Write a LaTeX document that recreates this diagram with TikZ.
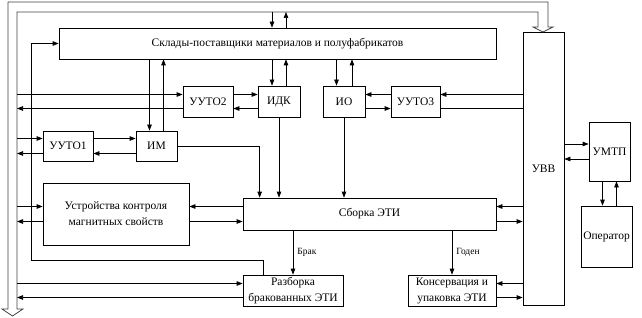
\documentclass[tikz,border=0pt]{standalone}
\usepackage{fontspec}
\setmainfont{Liberation Serif}
\usetikzlibrary{arrows.meta}

\begin{document}
\begin{tikzpicture}[x=1pt,y=-1pt,
  box/.style={draw, line width=0.7pt, inner sep=1pt, align=center, font=\fontsize{11.5}{16}\selectfont},
  arr/.style={line width=0.7pt, -{Triangle[length=6pt,width=4.5pt]}},
  ln/.style={line width=0.7pt},
  lbl/.style={font=\fontsize{9.5}{11}\selectfont, right, inner sep=0pt}]
\useasboundingbox (0,0) rectangle (642,318);
% blocks
\node[box, minimum width=437pt, minimum height=31pt] (sklad) at (277.5,43.5) {Склады-поставщики материалов и полуфабрикатов};
\node[box, minimum width=50pt, minimum height=31pt] (uuto2) at (208,101.5) {УУТО2};
\node[box, minimum width=42pt, minimum height=31pt] (idk) at (279,101.5) {ИДК};
\node[box, minimum width=42pt, minimum height=31pt] (io) at (344,101.5) {ИО};
\node[box, minimum width=49pt, minimum height=31pt] (uuto3) at (415.5,101.5) {УУТО3};
\node[box, minimum width=50pt, minimum height=30pt] (uuto1) at (68,146) {УУТО1};
\node[box, minimum width=41pt, minimum height=30pt] (im) at (156.5,146) {ИМ};
\node[box, minimum width=146pt, minimum height=62pt] (ukms) at (116,214) {Устройства контроля\\магнитных свойств};
\node[box, minimum width=253pt, minimum height=32pt] (sborka) at (369.5,214) {Сборка ЭТИ};
\node[box, minimum width=100pt, minimum height=31pt] (razb) at (293,290.5) {Разборка\\бракованных ЭТИ};
\node[box, minimum width=88pt, minimum height=31pt] (kons) at (452,290.5) {Консервация и\\упаковка ЭТИ};
\node[box, minimum width=41pt, minimum height=273pt] (uvv) at (543.5,168.5) {УВВ};
\node[box, minimum width=41pt, minimum height=59pt] (umtp) at (609.5,151.5) {УМТП};
\node[box, minimum width=51pt, minimum height=61pt] (oper) at (606.5,236.5) {Оператор};

% wide bus
\draw[ln, black!75] (8,309) -- (8,2) -- (548,2) -- (548,27) -- (553,27) -- (543,32) -- (533,27) -- (538,27)
  -- (538,12) -- (17,12) -- (17,309) -- (23,309) -- (12.5,316) -- (2,309) -- cycle;
\coordinate (busin) at (17,12);
\coordinate (ret) at (31,260);

% bus <-> sklad
\draw[arr] ([xshift=-7pt]idk.center |- busin) -- ([xshift=-7pt]idk.center |- sklad.north);
\draw[arr] ([xshift=7pt]idk.center |- sklad.north) -- ([xshift=7pt]idk.center |- busin);
\draw[arr] ([xshift=-30pt]razb.north) |- (ret) |- (sklad.west);

% sklad <-> im, idk, io
\draw[arr] ([xshift=-7pt]im.north |- sklad.south) -- ([xshift=-7pt]im.north);
\draw[arr] ([xshift=7pt]im.north) -- ([xshift=7pt]im.north |- sklad.south);
\draw[arr] ([xshift=-7pt]idk.north |- sklad.south) -- ([xshift=-7pt]idk.north);
\draw[arr] ([xshift=7pt]idk.north) -- ([xshift=7pt]idk.north |- sklad.south);
\draw[arr] ([xshift=-7.5pt]io.north |- sklad.south) -- ([xshift=-7.5pt]io.north);
\draw[arr] ([xshift=8pt]io.north) -- ([xshift=8pt]io.north |- sklad.south);

% uuto2, uuto3
\draw[arr] ([yshift=7pt]uuto2.west -| busin) -- ([yshift=7pt]uuto2.west);
\draw[arr] ([yshift=-7pt]uuto2.west) -- ([yshift=-7pt]uuto2.west -| busin);
\draw[arr] ([yshift=7pt]uuto2.east) -- ([yshift=7pt]idk.west);
\draw[arr] ([yshift=-7pt]idk.west) -- ([yshift=-7pt]uuto2.east);
\draw[arr] ([yshift=7pt]uuto3.west) -- ([yshift=7pt]io.east);
\draw[arr] ([yshift=-7pt]io.east) -- ([yshift=-7pt]uuto3.west);
\draw[arr] ([yshift=7pt]uuto3.east -| uvv.west) -- ([yshift=7pt]uuto3.east);
\draw[ln] ([yshift=-7pt]uuto3.east) -- ([yshift=-7pt]uuto3.east -| uvv.west);

% uuto1, im
\draw[arr] ([yshift=7.5pt]uuto1.west -| busin) -- ([yshift=7.5pt]uuto1.west);
\draw[arr] ([yshift=-7.5pt]uuto1.west) -- ([yshift=-7.5pt]uuto1.west -| busin);
\draw[arr] ([yshift=7.5pt]uuto1.east) -- ([yshift=7.5pt]im.west);
\draw[arr] ([yshift=-7.5pt]im.west) -- ([yshift=-7.5pt]uuto1.east);

% into sborka
\draw[arr] (im.east) -| ([xshift=17pt]sborka.north west);
\draw[arr] (idk.south) -- (idk.south |- sborka.north);
\draw[arr] (io.south) -- (io.south |- sborka.north);

% ukms
\draw[arr] ([yshift=7.5pt]ukms.west -| busin) -- ([yshift=7.5pt]ukms.west);
\draw[arr] ([yshift=-7.5pt]ukms.west) -- ([yshift=-7.5pt]ukms.west -| busin);
\draw[arr] ([yshift=7.5pt]sborka.west) -- ([yshift=7.5pt]ukms.east);
\draw[arr] ([yshift=-7.5pt]ukms.east) -- ([yshift=-7.5pt]sborka.west);
\draw[arr] ([yshift=7.5pt]sborka.east -| uvv.west) -- ([yshift=7.5pt]sborka.east);
\draw[arr] ([yshift=-7.5pt]sborka.east) -- ([yshift=-7.5pt]sborka.east -| uvv.west);

% brak / goden
\draw[arr] (razb.north |- sborka.south) -- node[lbl, xshift=4pt] {Брак} (razb.north);
\draw[arr] (kons.north |- sborka.south) -- node[lbl, xshift=4pt] {Годен} (kons.north);

% razb, kons
\draw[arr] ([yshift=7pt]razb.west -| busin) -- ([yshift=7pt]razb.west);
\draw[arr] ([yshift=-7pt]razb.west) -- ([yshift=-7pt]razb.west -| busin);
\draw[arr] ([yshift=7pt]kons.east -| uvv.west) -- ([yshift=7pt]kons.east);
\draw[arr] ([yshift=-7pt]kons.east) -- ([yshift=-7pt]kons.east -| uvv.west);

% umtp, operator
\draw[arr] ([yshift=7.5pt]umtp.west -| uvv.east) -- ([yshift=7.5pt]umtp.west);
\draw[arr] ([yshift=-7.5pt]umtp.west) -- ([yshift=-7.5pt]umtp.west -| uvv.east);
\draw[arr] ([xshift=-7pt]umtp.south) -- ([xshift=-7pt]umtp.south |- oper.north);
\draw[arr] ([xshift=7pt]umtp.south |- oper.north) -- ([xshift=7pt]umtp.south);
\end{tikzpicture}
\end{document}
